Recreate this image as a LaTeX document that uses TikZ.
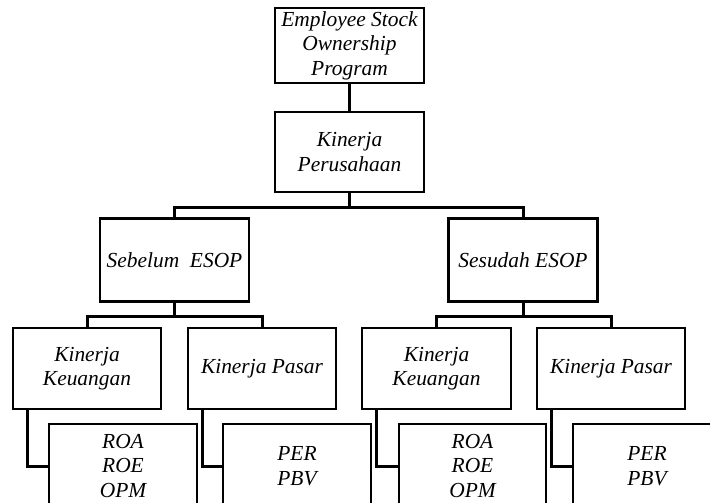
\documentclass[tikz,border=0pt]{standalone}
\usepackage{fontspec}
\setmainfont{Liberation Serif}
\begin{document}
\begin{tikzpicture}[x=1bp,y=-1bp,
    kotak/.style={draw, line width=2.6bp, align=center, inner sep=0pt,
      font=\fontsize{21.5}{24.5}\selectfont\itshape},
    garis/.style={line width=3bp}]
    % Batas gambar
    \clip (0,0) rectangle (710,503);

    % Kotak atas
    \node[kotak, minimum width=149bp, minimum height=75bp] (esop) at (349.5,45.5) {Employee Stock\\Ownership\\Program};
    \node[kotak, minimum width=149bp, minimum height=80bp] (kp) at (349.5,152) {Kinerja\\Perusahaan};

    % Sebelum dan sesudah
    \node[kotak, minimum width=149bp, minimum height=83bp] (sebelum) at (174.5,260) {Sebelum\ \ ESOP};
    \node[kotak, minimum width=149bp, minimum height=83bp] (sesudah) at (523,260) {Sesudah ESOP};

    % Kinerja keuangan dan pasar
    \node[kotak, minimum width=148bp, minimum height=81bp] (kk1) at (87,368.5) {Kinerja\\Keuangan};
    \node[kotak, minimum width=148bp, minimum height=81bp] (ps1) at (262,368.5) {Kinerja Pasar};
    \node[kotak, minimum width=149bp, minimum height=81bp] (kk2) at (436.5,368.5) {Kinerja\\Keuangan};
    \node[kotak, minimum width=148bp, minimum height=81bp] (ps2) at (611,368.5) {Kinerja Pasar};

    % Rasio
    \node[kotak, minimum width=148bp, minimum height=84bp] (roa1) at (123,466) {ROA\\ROE\\OPM};
    \node[kotak, minimum width=148bp, minimum height=84bp] (per1) at (297,466) {PER\\PBV};
    \node[kotak, minimum width=147bp, minimum height=84bp] (roa2) at (472.5,466) {ROA\\ROE\\OPM};
    \node[kotak, minimum width=148bp, minimum height=84bp] (per2) at (647,466) {PER\\PBV};

    % Garis penghubung
    \draw[garis] (esop) -- (kp);
    \foreach \atas/\kiri/\kanan in {kp/sebelum/sesudah, sebelum/kk1/ps1, sesudah/kk2/ps2}{
      \draw[garis] (\atas.south) -- ++(0,14) coordinate (cab);
      \draw[garis] (cab) -| (\kiri.north);
      \draw[garis] (cab) -| (\kanan.north);
    }
    \foreach \atas/\bawah in {kk1/roa1, ps1/per1, kk2/roa2, ps2/per2}
    \draw[garis] ([xshift=16bp]\atas.south west) |- (\bawah.west);
\end{tikzpicture}
\end{document}
